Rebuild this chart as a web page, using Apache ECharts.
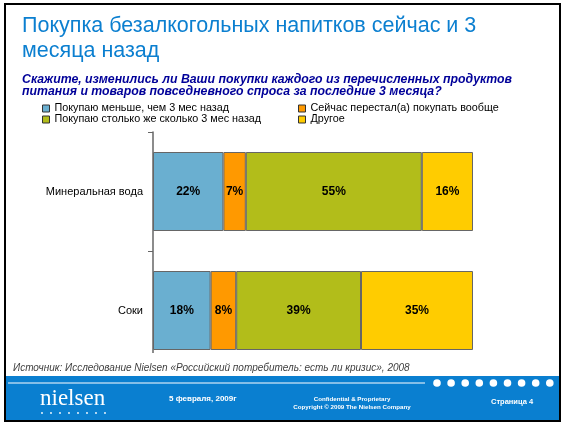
<!DOCTYPE html>
<html><head><meta charset="utf-8">
<script src="https://cdn.jsdelivr.net/npm/echarts@6/dist/echarts.min.js"></script>
<style>html,body{margin:0;padding:0;background:#fff}#c{width:566px;height:426px}</style>
</head><body><div id="c"></div>
<script>
var categories = ['Минеральная вода', 'Соки'];
var seriesNames = ['Покупаю меньше, чем 3 мес назад', 'Сейчас перестал(а) покупать вообще', 'Покупаю столько же сколько 3 мес назад', 'Другое'];
var lessValues = [22, 18];
var stoppedValues = [7, 8];
var sameValues = [55, 39];
var otherValues = [16, 35];
var colors = ['#6aafd0', '#ff9900', '#b2bd1a', '#ffcc00'];
var titleText = 'Покупка безалкогольных напитков сейчас и 3\nмесяца назад';
var subtitleText = 'Скажите, изменились ли Ваши покупки каждого из перечисленных продуктов\nпитания и товаров повседневного спроса за последние 3 месяца?';
var sourceText = 'Источник: Исследование Nielsen «Российский потребитель: есть ли кризис», 2008';

var chart = echarts.init(document.getElementById('c'));
var font = 'Arial, "Liberation Sans", sans-serif';
var values = [lessValues, stoppedValues, sameValues, otherValues];
var series = values.map(function (v, i) {
  return {
    name: seriesNames[i], type: 'bar', stack: 'all', data: v, barWidth: 79,
    itemStyle: { color: colors[i], borderColor: '#666', borderWidth: 1 },
    label: { show: true, position: 'inside', formatter: '{c}%', color: '#000', fontFamily: font, fontSize: 12, fontWeight: 'bold' },
    emphasis: { disabled: true }
  };
});

var graphics = [
  { type: 'rect', z: 0, shape: { x: 5, y: 4, width: 555, height: 417 }, style: { fill: '#fff', stroke: '#000', lineWidth: 2 }, silent: true },
  { type: 'rect', z: 100, shape: { x: 7, y: 353, width: 551, height: 23 }, style: { fill: '#fff' }, silent: true },
  { type: 'text', z: 101, left: 13, top: 363, style: { text: sourceText, fill: '#404040', font: 'italic 10px ' + font } },
  { type: 'rect', z: 100, shape: { x: 6, y: 376, width: 553, height: 44 }, style: { fill: '#0a7fd0' }, silent: true },
  { type: 'line', z: 101, shape: { x1: 8, y1: 383, x2: 425, y2: 383 }, style: { stroke: '#fff', lineWidth: 1 } },
  { type: 'text', z: 101, left: 40, top: 387, style: { text: 'nielsen', fill: '#fff', font: '23px "Liberation Serif", "DejaVu Serif", serif' } },
  { type: 'text', z: 101, left: 169, top: 395, style: { text: '5 февраля, 2009г', fill: '#fff', font: 'bold 8px ' + font } },
  { type: 'text', z: 101, x: 352, y: 395, style: { text: 'Confidential & Proprietary\nCopyright © 2009 The Nielsen Company', fill: '#fff', font: 'bold 6.2px ' + font, align: 'center', lineHeight: 8.5 } },
  { type: 'text', z: 101, left: 491, top: 398, style: { text: 'Страница 4', fill: '#fff', font: 'bold 7.5px ' + font } }
];
for (var i = 0; i < 9; i++) {
  graphics.push({ type: 'circle', z: 101, shape: { cx: 437 + i * 14.1, cy: 383, r: 3.8 }, style: { fill: '#fff' } });
}
for (var j = 0; j < 8; j++) {
  graphics.push({ type: 'circle', z: 101, shape: { cx: 42 + j * 9, cy: 413, r: 0.9 }, style: { fill: '#fff' } });
}

chart.setOption({
  animation: false,
  title: [
    { text: titleText, left: 22, top: 14, padding: 0, textStyle: { color: '#0b7fd0', fontFamily: font, fontSize: 21.5, fontWeight: 'normal', lineHeight: 25 } },
    { text: subtitleText, left: 22, top: 73, padding: 0, textStyle: { color: '#000099', fontFamily: font, fontSize: 12.3, fontWeight: 'bold', fontStyle: 'italic', lineHeight: 12.3 } }
  ],
  legend: [
    { orient: 'vertical', left: 42, top: 103, padding: 0, itemGap: 0, itemWidth: 7, itemHeight: 7, itemTextGap: 3,
      data: [seriesNames[0], seriesNames[2]], icon: 'rect', selectedMode: false,
      itemStyle: { borderColor: '#333', borderWidth: 1 },
      textStyle: { fontFamily: font, fontSize: 10.8, lineHeight: 10, color: '#000' } },
    { orient: 'vertical', left: 298, top: 103, padding: 0, itemGap: 0, itemWidth: 7, itemHeight: 7, itemTextGap: 3,
      data: [seriesNames[1], seriesNames[3]], icon: 'rect', selectedMode: false,
      itemStyle: { borderColor: '#333', borderWidth: 1 },
      textStyle: { fontFamily: font, fontSize: 10.8, lineHeight: 10, color: '#000' } }
  ],
  grid: { left: 153, right: 93, top: 132, height: 238, containLabel: false },
  xAxis: { type: 'value', min: 0, max: 100, show: false },
  yAxis: {
    type: 'category', data: categories, inverse: true,
    axisLine: { lineStyle: { color: '#666', width: 1.5 } },
    axisTick: { show: true, length: 5, lineStyle: { color: '#666' } },
    axisLabel: { margin: 10, color: '#000', fontFamily: font, fontSize: 11 }
  },
  series: series,
  graphic: graphics
});
</script></body></html>
